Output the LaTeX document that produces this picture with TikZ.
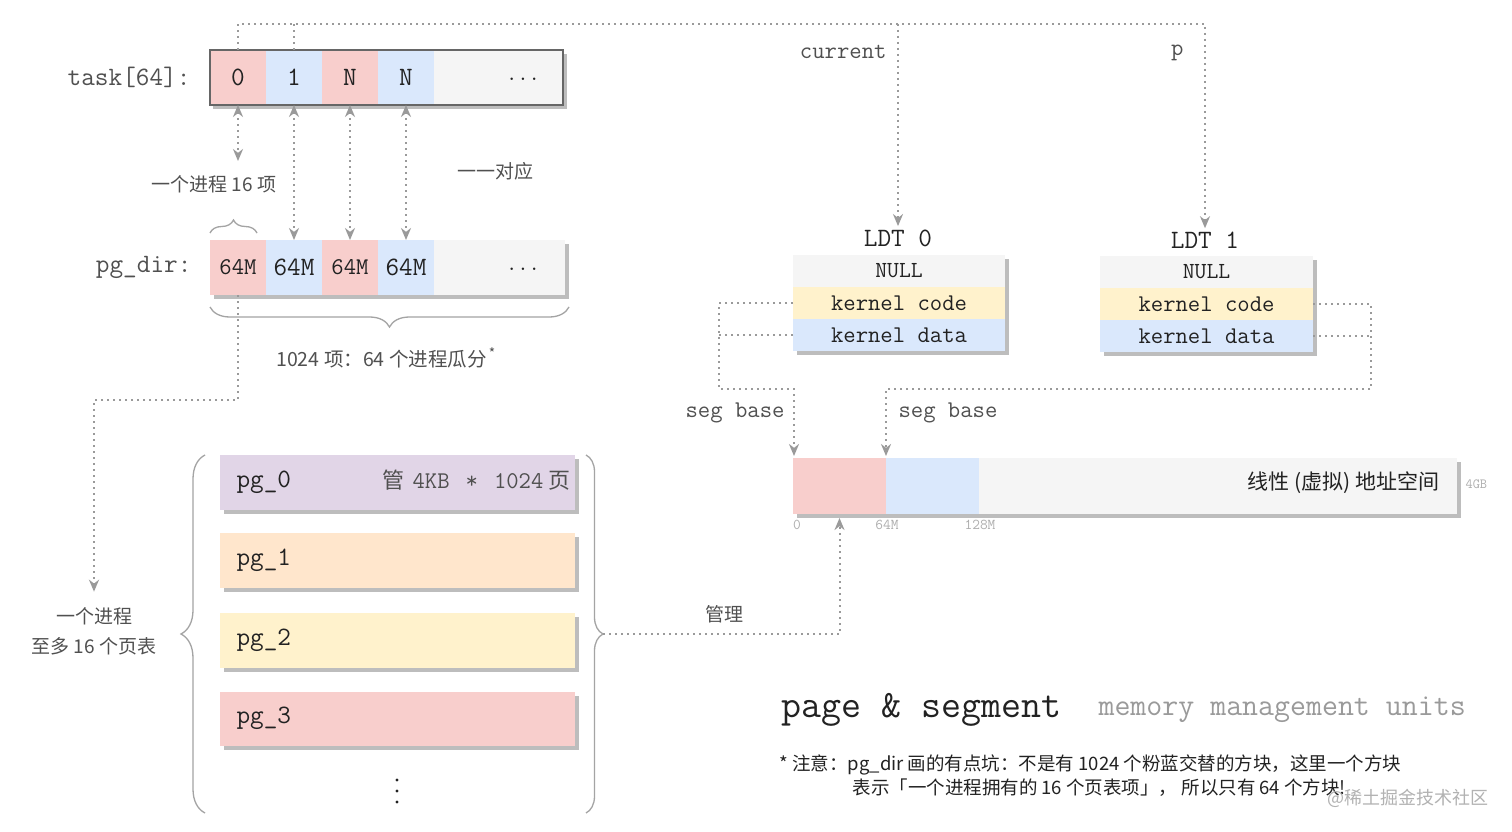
\documentclass[tikz,border=0pt]{standalone}
\usepackage{fontspec}
\setmainfont{Liberation Serif}
\newfontfamily\cjk{Noto Sans CJK SC}
\usetikzlibrary{arrows.meta,decorations.pathreplacing,calc}
\definecolor{cpink}{HTML}{F8CECC}
\definecolor{cblue}{HTML}{DAE8FC}
\definecolor{cgray}{HTML}{F5F5F5}
\definecolor{cyellow}{HTML}{FFF2CC}
\definecolor{corange}{HTML}{FFE6CC}
\definecolor{cpurple}{HTML}{E1D5E7}
\definecolor{cshadow}{HTML}{BDBDBD}
\definecolor{cline}{HTML}{9A9A9A}
\definecolor{ctext}{HTML}{222222}
\definecolor{clabel}{HTML}{505050}
\definecolor{cborder}{HTML}{666666}
\newcommand\fsz[2]{\fontsize{#1}{#2}\selectfont}
\begin{document}
\begin{tikzpicture}[x=1pt,y=-1pt,
  cellbox/.style={inner sep=0pt, outer sep=0pt, anchor=north west, text=ctext},
  shadowbox/.style={fill=cshadow},
  dotl/.style={draw=cline, line width=2pt, dash pattern=on 2pt off 4pt},
  tip/.style={-{Stealth[length=12pt,width=10pt]}},
  dtip/.style={{Stealth[length=12pt,width=10pt]}-{Stealth[length=12pt,width=10pt]}},
  brc/.style={draw=cline!90, line width=1.3pt, decorate},
  mono/.style={font=\ttfamily\fsz{26.5}{30}},
  monos/.style={font=\ttfamily\fsz{24}{28}},
  cn/.style={font=\cjk\fsz{19}{30}, text=clabel},
]
\useasboundingbox[fill=white] (0,0) rectangle (1512,832);

% ---------- task array ----------
\fill[shadowbox] (213,54) rectangle (567,109);
\node[cellbox, fill=cpink, minimum width=56pt, minimum height=55pt, mono] (t0) at (210,50) {0};
\node[cellbox, fill=cblue, minimum width=56pt, minimum height=55pt, mono] (t1) at (266,50) {1};
\node[cellbox, fill=cpink, minimum width=56pt, minimum height=55pt, mono] (t2) at (322,50) {N};
\node[cellbox, fill=cblue, minimum width=56pt, minimum height=55pt, mono] (t3) at (378,50) {N};
\node[cellbox, fill=cgray, minimum width=129pt, minimum height=55pt] (trest) at (434,50) {};
\node[font=\ttfamily\fsz{22}{24}, text=ctext] (tdots) at (523,79) {...};
\draw[draw=cborder, line width=1.4pt] (t0.north west) rectangle (trest.south east);
\node[anchor=east, mono, text=clabel] (tasklab) at (194,77) {task[64]:};

% ---------- pg_dir array ----------
\fill[shadowbox] (214,244) rectangle (569,299);
\node[cellbox, fill=cpink, minimum width=56pt, minimum height=55pt, monos] (d0) at (210,240) {64M};
\node[cellbox, fill=cblue, minimum width=56pt, minimum height=55pt, mono] (d1) at (266,240) {64M};
\node[cellbox, fill=cpink, minimum width=56pt, minimum height=55pt, monos] (d2) at (322,240) {64M};
\node[cellbox, fill=cblue, minimum width=56pt, minimum height=55pt, mono] (d3) at (378,240) {64M};
\node[cellbox, fill=cgray, minimum width=131pt, minimum height=55pt] (drest) at (434,240) {};
\node[font=\ttfamily\fsz{22}{24}, text=ctext] (ddots) at (523,269) {...};
\node[anchor=east, mono, text=clabel] (dirlab) at (195,267) {pg\_dir:};

% braces around pg_dir
\draw[brc, decoration={brace, amplitude=13pt}] (210,233) -- (257,233);
\draw[brc, decoration={brace, amplitude=20pt}] (569,307) -- (210,307);
\node[cn, font=\cjk\fsz{19.5}{30}] (cnt1024) at (386,358) {1024 项：64 个进程瓜分\textsuperscript{\,*}};
\node[cn] (cn16) at (214,184) {一个进程 16 项};
\node[cn] (cn11) at (495,171) {一一对应};

% task <-> pg_dir connectors
\coordinate (c16) at (238,161);
\draw[dotl, dtip] (t0.south) -- (c16);
\draw[dotl, dtip] (t1.south) -- (d1.north);
\draw[dotl, dtip] (t2.south) -- (d2.north);
\draw[dotl, dtip] (t3.south) -- (d3.north);

% ---------- LDT tables ----------
\node[mono, text=ctext] (ldt0lab) at (898,238) {LDT 0};
\node[mono, text=ctext] (ldt1lab) at (1205,240) {LDT 1};
\fill[shadowbox] (797,259) rectangle (1009,355);
\node[cellbox, fill=cgray, minimum width=212pt, minimum height=32pt, font=\ttfamily\fsz{23}{26}] (l0null) at (793,255) {NULL};
\node[cellbox, fill=cyellow, minimum width=212pt, minimum height=32pt, monos] (l0code) at (793,287) {kernel code};
\node[cellbox, fill=cblue, minimum width=212pt, minimum height=32pt, monos] (l0data) at (793,319) {kernel data};
\fill[shadowbox] (1104,260) rectangle (1317,356);
\node[cellbox, fill=cgray, minimum width=213pt, minimum height=32pt, font=\ttfamily\fsz{23}{26}] (l1null) at (1100,256) {NULL};
\node[cellbox, fill=cyellow, minimum width=213pt, minimum height=32pt, monos] (l1code) at (1100,288) {kernel code};
\node[cellbox, fill=cblue, minimum width=213pt, minimum height=32pt, monos] (l1data) at (1100,320) {kernel data};

% top connectors task -> LDT
\coordinate (topR) at (1205,24);
\draw[dotl, tip] (t0.north) |- (topR) -- (ldt1lab.north);
\draw[dotl] (t1.north) -- (t1.north |- topR);
\draw[dotl, tip] (ldt0lab.north |- topR) -- (ldt0lab.north);
\node[anchor=east, monos, text=clabel] (curlab) at (890,52) {current};
\node[anchor=east, monos, text=clabel] (plab) at (1187,53) {p};

% ---------- linear address space ----------
\fill[shadowbox] (797,462) rectangle (1461,518);
\node[cellbox, fill=cpink, minimum width=93pt, minimum height=56pt] (lin0) at (793,458) {};
\node[cellbox, fill=cblue, minimum width=93pt, minimum height=56pt] (lin1) at (886,458) {};
\node[cellbox, fill=cgray, minimum width=478pt, minimum height=56pt] (linrest) at (979,458) {};
\node[anchor=east, font=\cjk\fsz{21}{24}, text=ctext] (linlab) at (1443,483) {线性 (虚拟) 地址空间};
\node[anchor=west, font=\ttfamily\fsz{14}{16}, text=cline!80] (gb4) at (1462,484) {4GB};
\node[font=\ttfamily\fsz{15}{17}, text=cline!80] (m0) at (797,525) {0};
\node[font=\ttfamily\fsz{15}{17}, text=cline!80] (m64) at (887,525) {64M};
\node[font=\ttfamily\fsz{15}{17}, text=cline!80] (m128) at (980,525) {128M};

% seg base connectors
\coordinate (sL) at (719,389);
\coordinate (sR) at (1371,389);
\coordinate (segA) at (794,456);
\coordinate (segB) at (886,456);
\draw[dotl, tip] (l0code.west) -| (sL) -| (segA);
\draw[dotl] (l0data.west) -- (l0data.west -| sL);
\draw[dotl, tip] (l1code.east) -| (sR) -| (segB);
\draw[dotl] (l1data.east) -- (l1data.east -| sR);
\node[anchor=east, monos, text=clabel] (sb1) at (788,413) {seg base};
\node[anchor=west, monos, text=clabel] (sb2) at (895,413) {seg base};

% ---------- page tables ----------
\fill[shadowbox] (224,459) rectangle (579,514);
\node[cellbox, fill=cpurple, minimum width=355pt, minimum height=55pt] (pg0) at (220,455) {};
\fill[shadowbox] (224,537) rectangle (579,592);
\node[cellbox, fill=corange, minimum width=355pt, minimum height=55pt] (pg1) at (220,533) {};
\fill[shadowbox] (224,617) rectangle (579,672);
\node[cellbox, fill=cyellow, minimum width=355pt, minimum height=55pt] (pg2) at (220,613) {};
\fill[shadowbox] (224,696) rectangle (579,750);
\node[cellbox, fill=cpink, minimum width=355pt, minimum height=54pt] (pg3) at (220,692) {};
\node[anchor=west, mono, text=ctext] at (233,482) {pg\_0};
\node[anchor=west, mono, text=ctext] at (233,560) {pg\_1};
\node[anchor=west, mono, text=ctext] at (233,640) {pg\_2};
\node[anchor=west, mono, text=ctext] at (233,718) {pg\_3};
\node[anchor=east, text=clabel] (pg0note) at (574,480) {{\cjk\fsz{22}{24}管}\hspace{8pt}{\ttfamily\fsz{24}{28}4KB\hspace{16pt}*\hspace{16pt}1024}\hspace{5pt}{\cjk\fsz{22}{24}页}};
\fill[ctext] (397,780) circle (1.6) (397,791) circle (1.6) (397,802) circle (1.6);

% braces round the page tables
\draw[brc, decoration={brace, amplitude=24pt}] (205,813) -- (205,455);
\draw[brc, decoration={brace, amplitude=17pt}] (586,455) -- (586,813);
\coordinate (rb) at (603,634);

% pg_dir -> one process
\node[cn, align=center] (proc) at (94,631) {一个进程\\至多 16 个页表};
\coordinate (bendA) at (94,400);
\draw[dotl, tip] (d0.south) |- (bendA) -- ([yshift=12pt]proc.north);

% manage connector
\draw[dotl, tip] (rb) -| ([yshift=-4pt]lin0.south);
\node[cn] (mgmt) at (724,614) {管理};

% ---------- title & note ----------
\node[anchor=west, font=\ttfamily\fsz{38.8}{42}, text=ctext] (title) at (778,710) {page \& segment};
\node[anchor=west, font=\ttfamily\fsz{31}{34}, text=cline] (subtitle) at (1095,710) {memory management units};
\node[anchor=west, font=\cjk\fsz{18.5}{22}, text=ctext] (note1) at (776,765) {* 注意：pg\_dir 画的有点坑：不是有 1024 个粉蓝交替的方块，这里一个方块};
\node[anchor=west, font=\cjk\fsz{18.5}{22}, text=ctext] (note2) at (849,788) {表示「一个进程拥有的 16 个页表项」， 所以只有 64 个方块!};
\node[anchor=east, font=\cjk\fsz{18}{22}, text=black!30] (wm) at (1492,798) {@稀土掘金技术社区};
\end{tikzpicture}
\end{document}
